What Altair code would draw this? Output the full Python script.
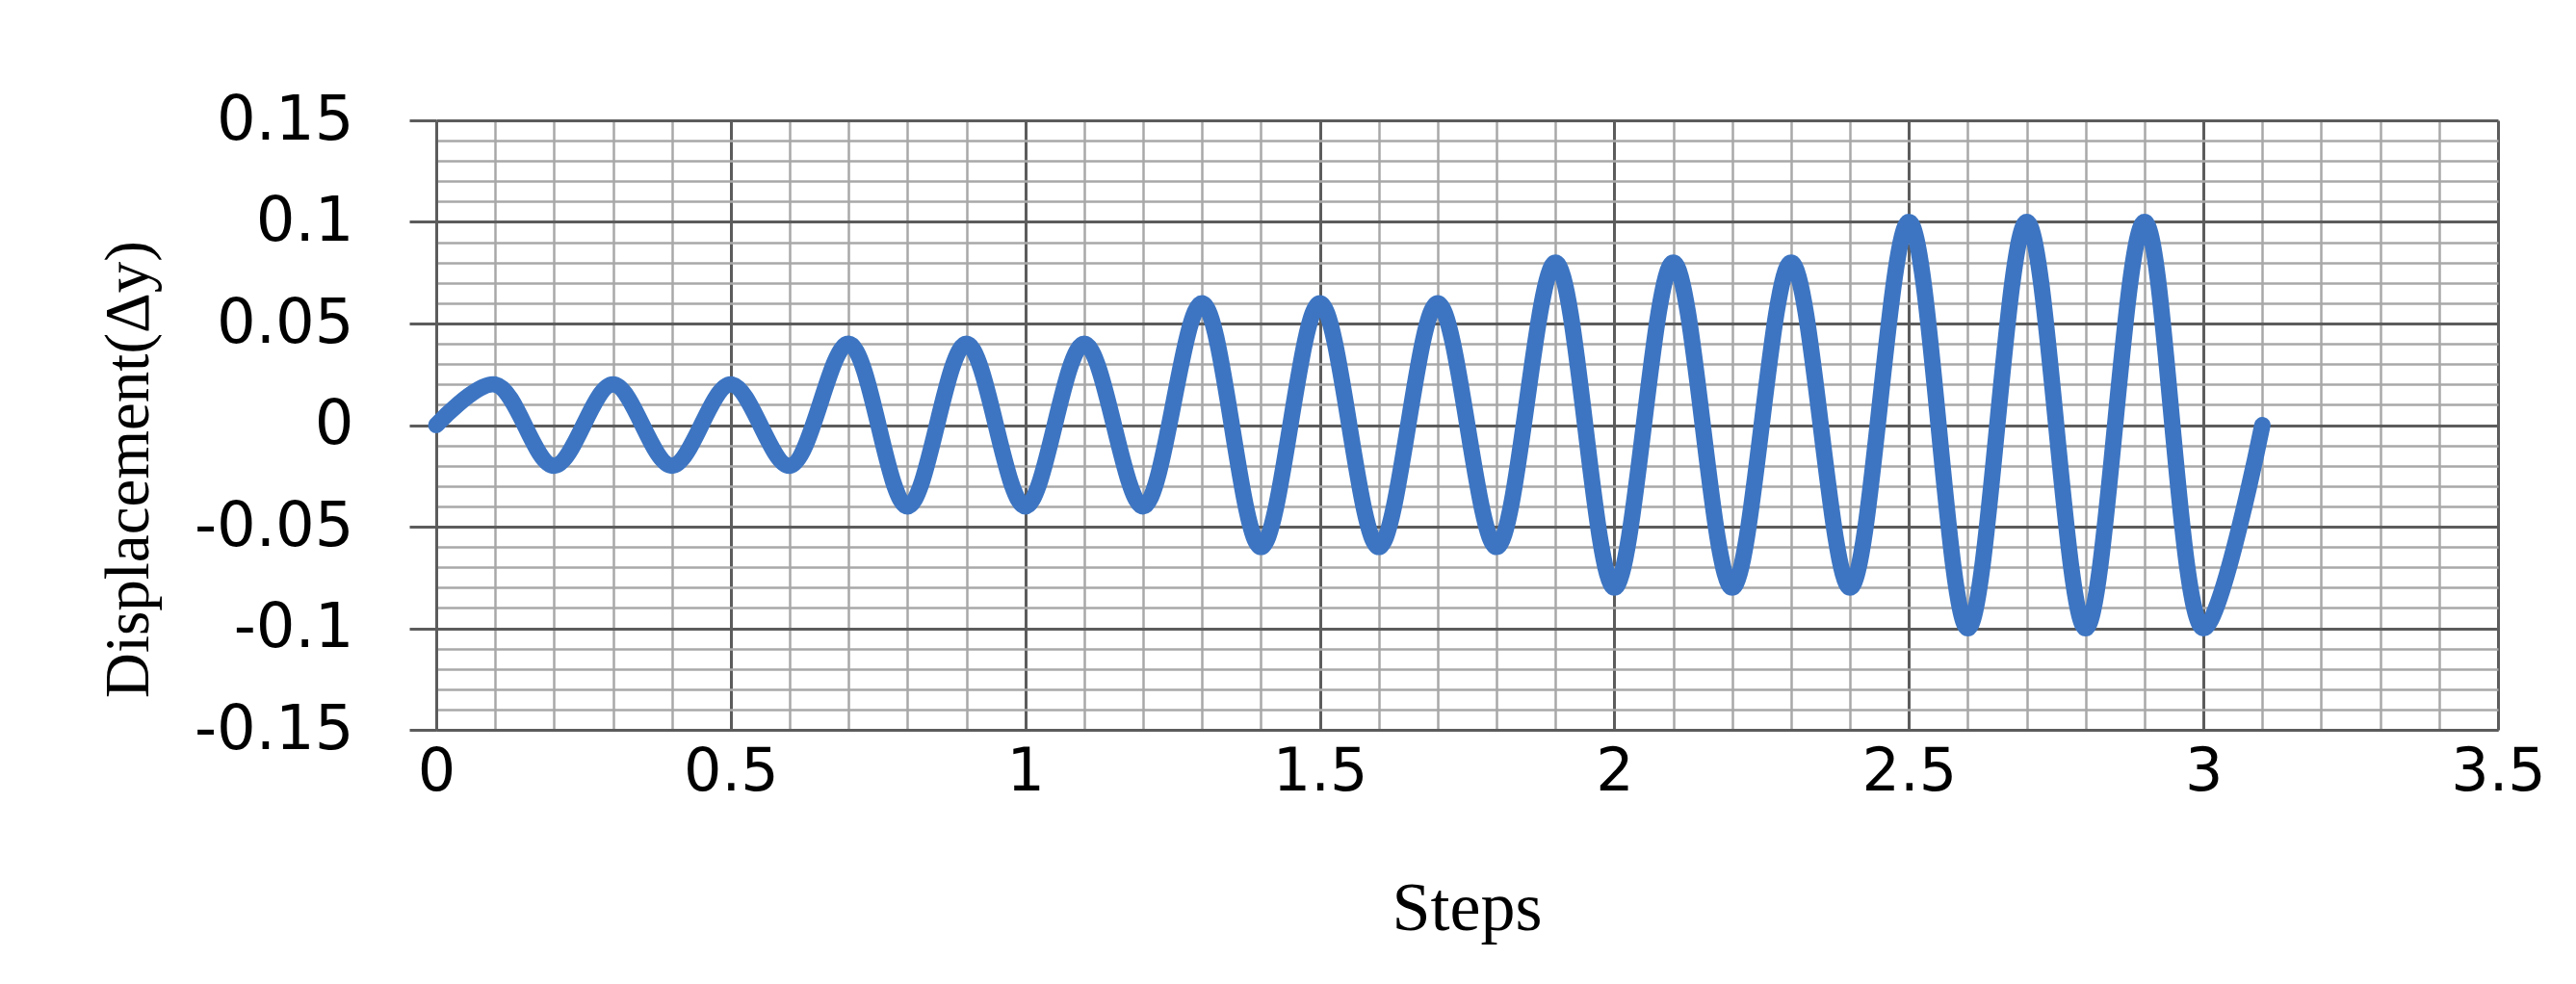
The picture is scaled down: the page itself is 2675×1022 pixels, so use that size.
import altair as alt
import pandas as pd

# Data (smoothed line through these points)
steps = [0.0, 0.1, 0.2, 0.3, 0.4, 0.5, 0.6, 0.7, 0.8, 0.9, 1.0,
         1.1, 1.2, 1.3, 1.4, 1.5, 1.6, 1.7, 1.8, 1.9, 2.0,
         2.1, 2.2, 2.3, 2.4, 2.5, 2.6, 2.7, 2.8, 2.9, 3.0, 3.1]
displacement = [0.0, 0.02, -0.02, 0.02, -0.02, 0.02, -0.02, 0.04, -0.04, 0.04, -0.04,
                0.04, -0.04, 0.06, -0.06, 0.06, -0.06, 0.06, -0.06, 0.08, -0.08,
                0.08, -0.08, 0.08, -0.08, 0.1, -0.1, 0.1, -0.1, 0.1, -0.1, 0.0]

# Axis tick / gridline positions
x_tick_values = [0.0, 0.1, 0.2, 0.3, 0.4, 0.5, 0.6, 0.7, 0.8, 0.9, 1.0,
                 1.1, 1.2, 1.3, 1.4, 1.5, 1.6, 1.7, 1.8, 1.9, 2.0,
                 2.1, 2.2, 2.3, 2.4, 2.5, 2.6, 2.7, 2.8, 2.9, 3.0,
                 3.1, 3.2, 3.3, 3.4, 3.5]
y_tick_values = [-0.15, -0.14, -0.13, -0.12, -0.11, -0.1, -0.09, -0.08, -0.07, -0.06,
                 -0.05, -0.04, -0.03, -0.02, -0.01, 0.0, 0.01, 0.02, 0.03, 0.04,
                 0.05, 0.06, 0.07, 0.08, 0.09, 0.1, 0.11, 0.12, 0.13, 0.14, 0.15]

x_title = "Steps"
y_title = "Displacement(Δy)"

df = pd.DataFrame({"Steps": steps, "Displacement": displacement})

major_x = "datum.value % 0.5 === 0"
major_y = "round(datum.value * 100) % 5 === 0"

MAJOR = "#5c5c5c"
MINOR = "#a8a8a8"

x_axis = alt.Axis(
    values=x_tick_values,
    title=x_title,
    labelExpr=f"({major_x}) ? '' + datum.value : ''",
    labelFont="DejaVu Sans",
    labelFontSize=62,
    labelColor="black",
    labelPadding=13,
    labelOverlap=False,
    labelFlush=False,
    labelBound=False,
    ticks=False,
    domain=True,
    domainColor=MAJOR,
    domainWidth=3,
    grid=True,
    gridColor={"condition": {"test": major_x, "value": MAJOR}, "value": MINOR},
    gridWidth={"condition": {"test": major_x, "value": 3}, "value": 2.5},
    gridOpacity=1,
    titleFont="Liberation Serif",
    titleFontSize=72,
    titleFontWeight="normal",
    titleColor="black",
    titleX=1070,
    titleY=207,
    titleAlign="center",
    titleBaseline="alphabetic",
)

y_axis = alt.Axis(
    values=y_tick_values,
    title=y_title,
    labelExpr=f"({major_y}) ? '' + datum.value : ''",
    labelFont="DejaVu Sans",
    labelFontSize=64,
    labelColor="black",
    labelAlign="right",
    labelBaseline="middle",
    labelPadding=58,
    labelOverlap=False,
    labelFlush=False,
    labelBound=False,
    ticks=True,
    tickSize=28,
    tickWidth=3,
    tickColor=MAJOR,
    tickOpacity={"condition": {"test": major_y, "value": 1}, "value": 0},
    domain=True,
    domainColor=MAJOR,
    domainWidth=3,
    grid=True,
    gridColor={"condition": {"test": major_y, "value": MAJOR}, "value": MINOR},
    gridWidth={"condition": {"test": major_y, "value": 3}, "value": 2.5},
    gridOpacity=1,
    titleFont="Liberation Serif",
    titleFontSize=65,
    titleFontWeight="normal",
    titleColor="black",
    titleAngle=270,
    titleX=-300,
    titleY=362,
    titleAlign="center",
    titleBaseline="alphabetic",
)

chart = (
    alt.Chart(df)
    .mark_line(interpolate="catmull-rom", strokeWidth=17, color="#3D75C2", strokeCap="round")
    .encode(
        x=alt.X("Steps:Q", scale=alt.Scale(domain=[0, 3.5], nice=False, zero=False), axis=x_axis),
        y=alt.Y("Displacement:Q", scale=alt.Scale(domain=[-0.15, 0.15], nice=False, zero=False), axis=y_axis),
    )
    .properties(
        width=2141,
        height=633,
        autosize=alt.AutoSizeParams(type="none"),
        padding={"left": 445, "top": 117, "right": 70, "bottom": 240},
        background="white",
    )
    .configure_view(stroke=None)
)

chart.save("out.html", embed_options={"renderer": "svg", "actions": False})
